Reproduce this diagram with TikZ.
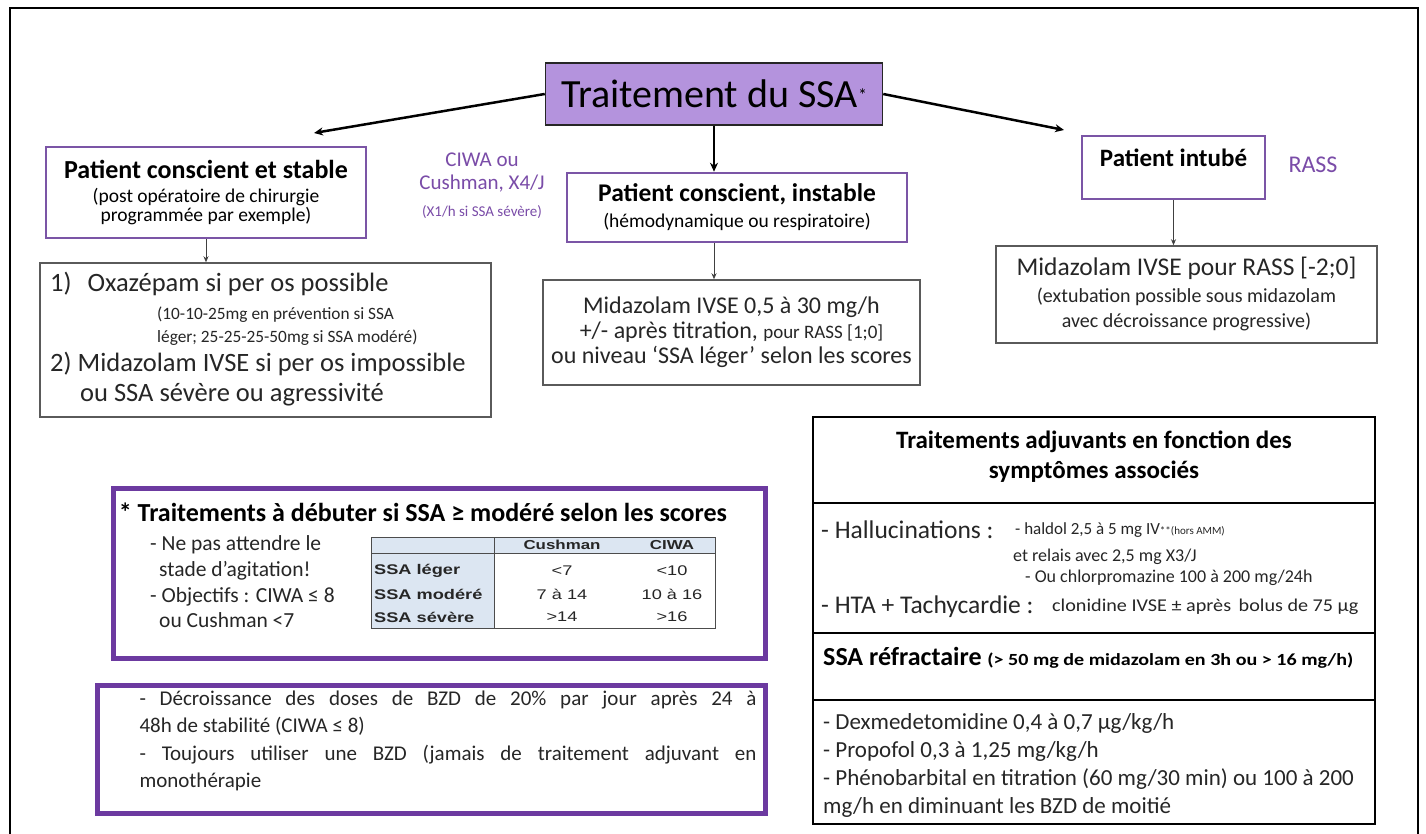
\documentclass[tikz,border=0pt]{standalone}
\usepackage{fontspec}
\setmainfont{Carlito}
\newfontfamily\tabfont{Liberation Sans}[FakeStretch=1.3]
\usetikzlibrary{arrows.meta}

\definecolor{titlefill}{HTML}{B493DD}
\definecolor{boxpurple}{HTML}{7B55A6}
\definecolor{framepurple}{HTML}{6C3AA0}
\definecolor{labelpurple}{HTML}{7A4CA8}
\definecolor{boxgrey}{HTML}{5A5A5A}
\definecolor{tableblue}{HTML}{DCE6F2}

\newcommand{\fsz}[2]{\fontsize{#1}{#2}\selectfont}
\hyphenpenalty=10000

\begin{document}
\begin{tikzpicture}[x=1pt,y=-1pt,
  titlebox/.style={draw=black!85,line width=1.5,fill=titlefill,inner sep=0pt,align=center},
  purplebox/.style={draw=boxpurple,line width=2.5,inner sep=0pt,align=center},
  greybox/.style={draw=boxgrey,line width=1.5,inner sep=0pt,align=center,text=black!85},
  framebox/.style={draw=framepurple,line width=5,inner sep=0pt},
  bigarrow/.style={-{Stealth[length=9pt,width=8pt]},line width=2.5},
  smallarrow/.style={-{Stealth[length=6pt,width=5pt]},line width=0.8,draw=black!75},
  sidelabel/.style={text=labelpurple,align=center,inner sep=0pt},
  txt/.style={inner sep=0pt,anchor=west,text=black!85,align=left},
  tabtxt/.style={inner sep=0pt,font=\tabfont\fsz{14}{16},text=black!85}]

  \useasboundingbox (0,0) rectangle (1426,834);
  \fill[white] (0,0) rectangle (1426,834);
  % outer frame
  \draw[line width=2.5] (10,840) -- (10,8) -- (1418,8) -- (1418,840);

  % top of the tree
  \node[titlebox,minimum width=337,minimum height=62] (title) at (714,94)
    {\fsz{40}{44}Traitement du SSA\raisebox{6pt}{\fsz{18}{18}*}};
  \coordinate (lefttip) at (314,133);
  \coordinate (righttip) at (1064,130);

  % left branch
  \node[purplebox,minimum width=320,minimum height=91,font=\fsz{19.5}{19}] (stable) at (206,192.5)
    {{\bfseries\fsz{26}{28}Patient conscient et stable}\\[5pt](post opératoire de chirurgie\\programmée par exemple)};
  \node[sidelabel,font=\fsz{21}{23}] (ciwa) at (482,186)
    {CIWA ou\\Cushman, X4/J\\[4pt]{\fsz{15}{16}(X1/h si SSA sévère)}};
  \node[greybox,minimum width=451,minimum height=154] (oxa) at (265.5,340) {};
  \node[txt,font=\fsz{26.5}{30}] (oxatxt) at (50,339)
    {1)\hspace{16pt}Oxazépam si per os possible\\[-2pt]
     {\fsz{17.3}{22}\hspace*{107pt}(10-10-25mg en prévention si SSA}\\[-7pt]
     {\fsz{17.3}{22}\hspace*{107pt}léger; 25-25-25-50mg si SSA modéré)}\\[-1pt]
     2) Midazolam IVSE si per os impossible\\
     \hspace*{30pt}ou SSA sévère ou agressivité};

  % middle branch
  \node[purplebox,minimum width=340,minimum height=69,font=\fsz{19.5}{21}] (instable) at (737,207.5)
    {{\bfseries\fsz{25.5}{28}Patient conscient, instable}\\[5pt](hémodynamique ou respiratoire)};
  \node[greybox,minimum width=377,minimum height=105,font=\fsz{24}{25}] (midaz) at (731.5,332.5)
    {Midazolam IVSE 0,5 à 30 mg/h\\+/- après titration, {\fsz{19}{20}pour RASS [1;0]}\\ou niveau ‘SSA léger’ selon les scores};

  % right branch
  \node[purplebox,minimum width=183,minimum height=63] (intub) at (1173.5,167.5) {};
  \node[inner sep=0pt,font={\bfseries\fsz{25}{28}}] (intubtxt) at (1173.5,158) {Patient intubé};
  \node[sidelabel,font=\fsz{24}{26}] (rasslbl) at (1313,165) {RASS};
  \node[greybox,minimum width=381,minimum height=97,font=\fsz{20}{25}] (rassbox) at (1186.5,294.5)
    {{\fsz{25.5}{28}Midazolam IVSE pour RASS [-2;0]}\\[2pt](extubation possible sous midazolam\\avec décroissance progressive)};

  \draw[bigarrow] (title.west) -- (lefttip);
  \draw[bigarrow] (title.east) -- (righttip);
  \draw[bigarrow] (title.south) -- (title.south |- instable.north);
  \draw[smallarrow] (stable.south) -- (stable.south |- oxa.north);
  \draw[smallarrow] (title.south |- instable.south) -- (title.south |- midaz.north);
  \draw[smallarrow] (intub.south) -- (intub.south |- rassbox.north);

  % scores box with table
  \node[framebox,minimum width=652,minimum height=170] (starbox) at (439,573) {};
  \node[inner sep=0pt,font={\bfseries\fsz{26}{28}}] (startitle) at (423,512)
    {* Traitements à débuter si SSA ≥ modéré selon les scores};
  \node[txt,font=\fsz{21.5}{25.7}] (starlist) at (150,582)
    {- Ne pas attendre le\\\hspace*{9pt}stade d’agitation!\\- Objectifs : CIWA ≤ 8\\\hspace*{9pt}ou Cushman <7};
  \fill[tableblue] (371,537) rectangle (715,553);
  \fill[tableblue] (371,553) rectangle (494,628);
  \draw[line width=0.8,black!70] (371,537) rectangle (715,628);
  \draw[line width=0.8,black!70] (371,553) -- (715,553) (494,537) -- (494,628);
  \node[tabtxt,font=\tabfont\bfseries\fsz{13}{16}] (hcush) at (562,545) {Cushman};
  \node[tabtxt,font=\tabfont\bfseries\fsz{13}{16}] (hciwa) at (672,545) {CIWA};
  \foreach \nm/\yy/\lbl/\cu/\ci in {leger/571/SSA léger/<7/<10, modere/594/SSA modéré/7 à 14/10 à 16, severe/617/SSA sévère/>14/>16}
    {
    \node[tabtxt,anchor=west,font=\tabfont\bfseries\fsz{14}{16}] (lbl\nm) at (374,\yy) {\lbl};
    \node[tabtxt] (cu\nm) at (562,\yy) {\cu};
    \node[tabtxt] (ci\nm) at (672,\yy) {\ci};
    }

  % decrease box
  \node[framebox,minimum width=668,minimum height=128] (bzdbox) at (431,749) {};
  \node[inner sep=0pt,text width=617,align=justify,font=\fsz{21}{27.5},text=black!85] (bzdtext) at (448,741)
    {- Décroissance des doses de BZD de 20\% par jour après 24 à\linebreak 48h de stabilité (CIWA ≤ 8)\\- Toujours utiliser une BZD (jamais de traitement adjuvant en\linebreak monothérapie};

  % adjuvant treatments
  \node[draw,line width=2,minimum width=562,minimum height=407,inner sep=0pt] (adjbox) at (1094,620.5) {};
  \draw[line width=2.5] (adjbox.west |- 0,503) -- (adjbox.east |- 0,503);
  \draw[line width=2.5] (adjbox.west |- 0,633) -- (adjbox.east |- 0,633);
  \draw[line width=2.5] (adjbox.west |- 0,700) -- (adjbox.east |- 0,700);
  \node[inner sep=0pt,align=center,font={\bfseries\fsz{25}{30}}] (adjtitle) at (1094,457)
    {Traitements adjuvants en fonction des\\symptômes associés};
  \node[txt,font=\fsz{25.5}{27}] (halluc) at (821,530) {- Hallucinations :};
  \node[txt,font=\fsz{17}{19}] (haldol) at (1015,530) {- haldol 2,5 à 5 mg IV{\fsz{11}{12}**(hors AMM)}};
  \node[txt,font=\fsz{18}{20}] (relais) at (1013,557) {et relais avec 2,5 mg X3/J};
  \node[txt,font=\fsz{18}{20}] (chlor) at (1025,578) {- Ou chlorpromazine 100 à 200 mg/24h};
  \node[txt,font=\fsz{25.5}{27}] (hta) at (821,607) {- HTA + Tachycardie :};
  \node[txt,font=\fsz{18}{20}\addfontfeature{FakeStretch=1.12}] (clon) at (1052,607) {clonidine IVSE ± après\, bolus de 75 µg};
  \node[txt,font=\fsz{26}{28},text=black] (refr) at (823,658)
    {\bfseries SSA réfractaire {\fsz{17}{18}\addfontfeature{FakeStretch=1.18}(> 50 mg de midazolam en 3h ou > 16 mg/h)}};
  \node[txt,font=\fsz{23}{27.7}] (refrlist) at (823,765.5)
    {- Dexmedetomidine 0,4 à 0,7 µg/kg/h\\- Propofol 0,3 à 1,25 mg/kg/h\\- Phénobarbital en titration (60 mg/30 min) ou 100 à 200\\mg/h en diminuant les BZD de moitié};
\end{tikzpicture}
\end{document}
